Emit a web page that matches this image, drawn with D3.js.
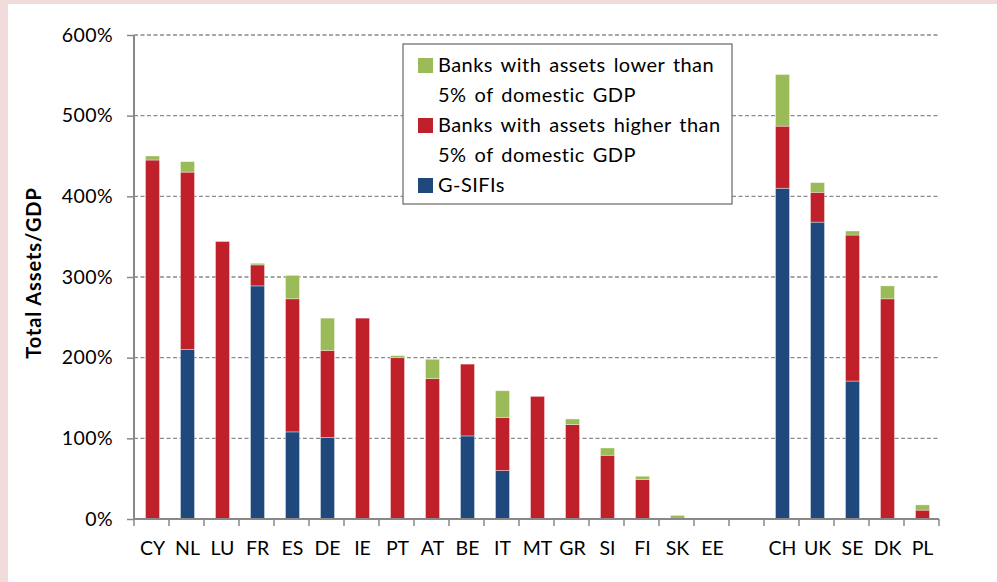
<!DOCTYPE html>
<html>
<head>
<meta charset="utf-8">
<script src="https://cdn.jsdelivr.net/npm/d3@7"></script>
<style>
  body { margin: 0; background: #ffffff; }
  text { font-family: Lato, "Open Sans", sans-serif; fill: #000; }
</style>
</head>
<body>
<div id="chart"></div>
<script>
// ============
// Data (% of GDP)
// ============
var countries = ["CY", "NL", "LU", "FR", "ES", "DE", "IE", "PT", "AT", "BE", "IT", "MT", "GR", "SI", "FI", "SK", "EE", "gap", "CH", "UK", "SE", "DK", "PL"];
var gsifi = [0, 210, 0, 289, 108, 101, 0, 0, 0, 103, 60, 0, 0, 0, 0, 0, 0, 0, 410, 368, 171, 0, 0];
var higher = [445, 220, 344, 26, 165, 108, 249, 200, 174, 89, 66, 152, 117, 79, 49, 0, 0, 0, 77, 37, 181, 273, 11];
var lower = [5, 13, 0, 2, 29, 40, 0, 2.5, 24, 0, 33, 0, 7, 9, 4, 4.5, 0, 0, 64, 12, 5, 16, 6.5];
var yTicks = [0, 100, 200, 300, 400, 500, 600];

var seriesKeys = ["gsifi", "higher", "lower"];
var colors = { gsifi: "#1f497d", higher: "#c0202a", lower: "#9bbb59" };
var legendItems = [
  { key: "lower", lines: ["Banks with assets lower than", "5% of domestic GDP"] },
  { key: "higher", lines: ["Banks with assets higher than", "5% of domestic GDP"] },
  { key: "gsifi", lines: ["G-SIFIs"] }
];

// ============
// Set up of the svg
// ============
var svgWidth = 997;
var svgHeight = 582;

var margin = { top: 35, right: 58, bottom: 63, left: 134 };
var width = svgWidth - margin.left - margin.right;
var height = svgHeight - margin.top - margin.bottom;

var svg = d3.select("#chart")
  .append("svg")
  .attr("width", svgWidth)
  .attr("height", svgHeight);

// pink frame on left and top
svg.append("rect").attr("x", 0).attr("y", 0).attr("width", svgWidth).attr("height", svgHeight).attr("fill", "#f2dcdb");
svg.append("rect").attr("x", 8).attr("y", 4).attr("width", svgWidth - 8).attr("height", svgHeight - 4).attr("fill", "#ffffff");

var chartGroup = svg.append("g")
  .attr("transform", `translate(${margin.left}, ${margin.top})`);

// ============
// Scales
// ============
var tableData = countries.map(function(c, i) {
  return { country: c, gsifi: gsifi[i], higher: higher[i], lower: lower[i] };
});

var xScale = d3.scaleBand()
  .domain(countries)
  .range([0, width])
  .paddingInner(0)
  .paddingOuter(0);

var yScale = d3.scaleLinear()
  .domain([0, 600])
  .range([height, 0]);

// gridlines
chartGroup.append("g")
  .selectAll("line")
  .data(yTicks.filter(d => d > 0))
  .enter()
  .append("line")
  .attr("x1", 0)
  .attr("x2", width)
  .attr("y1", d => yScale(d))
  .attr("y2", d => yScale(d))
  .attr("stroke", "#8a8a8a")
  .attr("stroke-width", 1.4)
  .attr("stroke-dasharray", "4,2.5");

// ============
// Bars
// ============
var stacked = d3.stack().keys(seriesKeys)(tableData);
var barWidth = 14;

chartGroup.append("g")
  .selectAll("g")
  .data(stacked)
  .enter()
  .append("g")
  .attr("fill", d => colors[d.key])
  .selectAll("rect")
  .data(d => d.filter(p => p[1] - p[0] > 0))
  .enter()
  .append("rect")
  .attr("x", d => xScale(d.data.country) + xScale.bandwidth() / 2 - barWidth / 2 + 1)
  .attr("y", d => yScale(d[1]))
  .attr("width", barWidth)
  .attr("height", d => yScale(d[0]) - yScale(d[1]))
  .attr("stroke", "rgba(255,255,255,0.45)")
  .attr("stroke-width", 0.8);

// ============
// Axes
// ============
var leftAxis = d3.axisLeft(yScale)
  .tickValues(yTicks)
  .tickFormat(d => d + "%")
  .tickSize(7)
  .tickPadding(14);

var yAxis = chartGroup.append("g").call(leftAxis);
yAxis.select(".domain").attr("stroke", "#888").attr("stroke-width", 2).attr("d", `M0,${height}V0`);
yAxis.selectAll(".tick line").attr("stroke", "#888").attr("stroke-width", 1.5);
yAxis.selectAll(".tick text").style("font-size", "19.5px").style("letter-spacing", "0.4px").attr("fill", "#000");

var bottomAxis = d3.axisBottom(xScale)
  .tickSize(0)
  .tickPadding(22)
  .tickFormat(d => d === "gap" ? "" : d);

var xAxis = chartGroup.append("g")
  .attr("transform", `translate(0, ${height})`)
  .call(bottomAxis);
xAxis.select(".domain").attr("stroke", "#888").attr("stroke-width", 2).attr("d", `M0,0H${width}`);
xAxis.selectAll(".tick text").style("font-size", "19.5px").attr("fill", "#000").attr("dx", 1);

// tick marks between categories
xAxis.append("g")
  .selectAll("line")
  .data(countries.map((c, i) => i).concat([countries.length]))
  .enter()
  .append("line")
  .attr("x1", i => i * xScale.step())
  .attr("x2", i => i * xScale.step())
  .attr("y1", 0)
  .attr("y2", 7)
  .attr("stroke", "#888")
  .attr("stroke-width", 1.5);

// y axis title
chartGroup.append("text")
  .attr("transform", `translate(${-93}, ${height / 2 - 4}) rotate(-90)`)
  .attr("text-anchor", "middle")
  .style("font-size", "20px")
  .style("font-weight", "bold")
  .style("letter-spacing", "0.9px")
  .text("Total Assets/GDP");

// ============
// Legend
// ============
var legend = svg.append("g").attr("transform", "translate(403, 44)");
legend.append("rect")
  .attr("width", 329)
  .attr("height", 160)
  .attr("fill", "#fff")
  .attr("stroke", "#666")
  .attr("stroke-width", 1.2);

var lineY = 28;
legendItems.forEach(function(item) {
  legend.append("rect")
    .attr("x", 15)
    .attr("y", lineY - 14)
    .attr("width", 15)
    .attr("height", 15)
    .attr("fill", colors[item.key]);
  item.lines.forEach(function(line) {
    legend.append("text")
      .attr("x", 35)
      .attr("y", lineY)
      .style("font-size", "20px")
      .style("letter-spacing", "0.45px")
      .style("word-spacing", "2.5px")
      .text(line);
    lineY += 30;
  });
});
</script>
</body>
</html>
